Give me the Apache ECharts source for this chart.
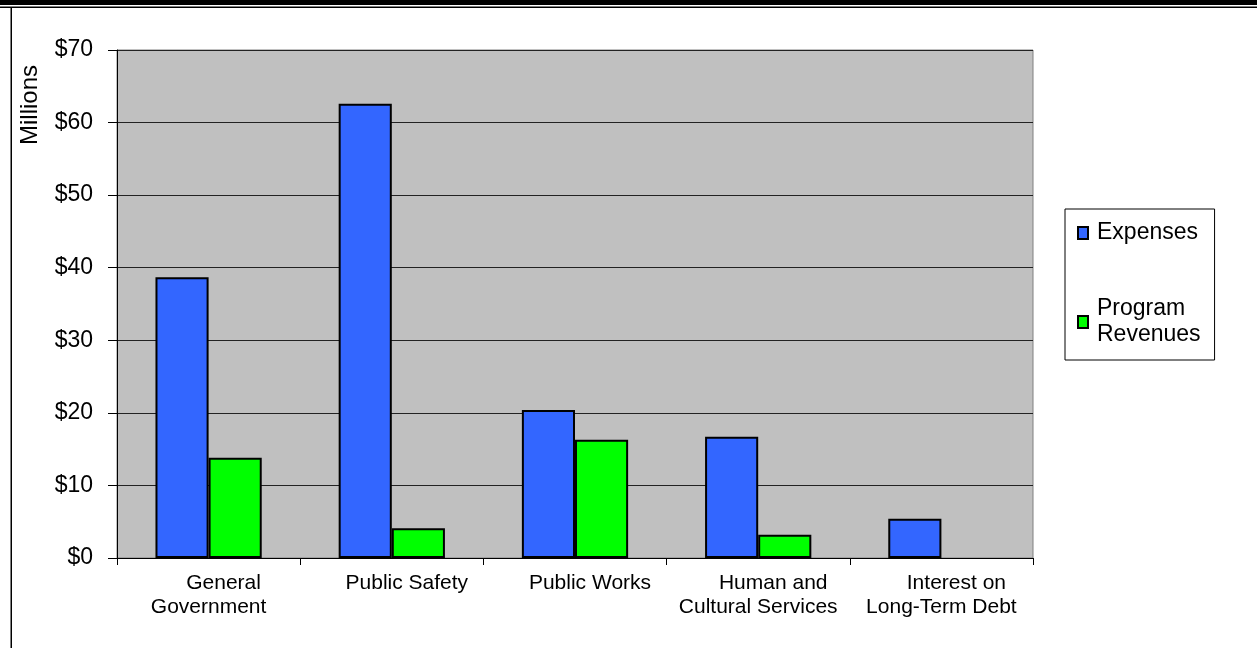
<!DOCTYPE html>
<html>
<head>
<meta charset="utf-8">
<script src="https://cdn.jsdelivr.net/npm/echarts@6/dist/echarts.min.js"></script>
<style>
html,body{margin:0;padding:0;background:#fff;}
#chart{width:1257px;height:648px;}
</style>
</head>
<body>
<div id="chart"></div>
<script>
const categories = [
  ["General", "Government"],
  ["Public Safety"],
  ["Public Works"],
  ["Human and", "Cultural Services"],
  ["Interest on", "Long-Term Debt"]
];
const expenses = [38.7, 62.6, 20.4, 16.7, 5.4];
const programRevenues = [13.8, 4.1, 16.3, 3.2, 0];
const yTicks = [0, 10, 20, 30, 40, 50, 60, 70];

const font = '"Liberation Sans", Arial, sans-serif';
const chart = echarts.init(document.getElementById('chart'));

function barData(values) {
  return values.map(v => v === 0 ? { value: v, itemStyle: { borderWidth: 0 } } : v);
}

chart.setOption({
  animation: false,
  backgroundColor: '#ffffff',
  textStyle: { fontFamily: font, color: '#000' },
  grid: {
    left: 117, top: 50, width: 916, height: 508,
    show: true, backgroundColor: '#C0C0C0', borderColor: '#808080', borderWidth: 1
  },
  legend: {
    orient: 'vertical',
    left: 1065, top: 209,
    padding: [11, 14, 12, 12],
    itemGap: 50,
    itemWidth: 10, itemHeight: 12,
    backgroundColor: '#fff',
    borderColor: '#000', borderWidth: 1,
    icon: 'rect',
    textStyle: { fontFamily: font, fontSize: 23, lineHeight: 26, color: '#000', padding: [0, 0, 0, 4] },
    formatter: function (n) { return n === 'Program Revenues' ? 'Program\nRevenues' : n; },
    data: ['Expenses', 'Program Revenues']
  },
  xAxis: {
    type: 'category',
    data: categories.map(c => c.join('\n')),
    axisLine: { show: true, lineStyle: { color: '#000', width: 1 } },
    axisTick: { show: true, length: 7, lineStyle: { color: '#000' } },
    axisLabel: {
      margin: 13,
      interval: 0,
      fontFamily: font, fontSize: 21, lineHeight: 24, color: '#000',
      formatter: function (v) {
        const parts = v.split('\n');
        if (parts.length === 2) return '{a|' + parts[0] + '}\n{b|' + parts[1] + '}';
        return '{a|' + v + '}';
      },
      rich: {
        a: { fontFamily: font, fontSize: 21, lineHeight: 24, color: '#000', padding: [0, 0, 0, 30] },
        b: { fontFamily: font, fontSize: 21, lineHeight: 24, color: '#000' }
      }
    },
    splitLine: { show: false }
  },
  yAxis: {
    type: 'value',
    min: yTicks[0], max: yTicks[yTicks.length - 1], interval: 10,
    axisLine: { show: true, lineStyle: { color: '#000', width: 1 } },
    axisTick: { show: true, length: 9, lineStyle: { color: '#000' } },
    axisLabel: {
      margin: 24, fontFamily: font, fontSize: 23, color: '#000',
      formatter: function (v) { return '$' + v; }
    },
    splitLine: { show: true, lineStyle: { color: '#222', width: 1 } }
  },
  series: [
    {
      name: 'Expenses', type: 'bar', data: barData(expenses),
      barGap: '0%', barCategoryGap: '42%',
      itemStyle: { color: '#3366FF', borderColor: '#000', borderWidth: 2 }
    },
    {
      name: 'Program Revenues', type: 'bar', data: barData(programRevenues),
      barGap: '0%', barCategoryGap: '42%',
      itemStyle: { color: '#00FF00', borderColor: '#000', borderWidth: 2 }
    }
  ],
  graphic: [
    { type: 'rect', shape: { x: 0, y: 0, width: 1257, height: 5 }, style: { fill: '#000' }, silent: true },
    { type: 'rect', shape: { x: 0, y: 6.5, width: 1257, height: 1.5 }, style: { fill: '#000' }, silent: true },
    { type: 'rect', shape: { x: 10.5, y: 7, width: 1.5, height: 641 }, style: { fill: '#000' }, silent: true },
    {
      type: 'text', x: 30, y: 105, rotation: Math.PI / 2,
      style: {
        text: 'Millions', fontFamily: font, fontSize: 24, fill: '#000',
        align: 'center', verticalAlign: 'middle'
      }
    }
  ]
});
</script>
</body>
</html>
